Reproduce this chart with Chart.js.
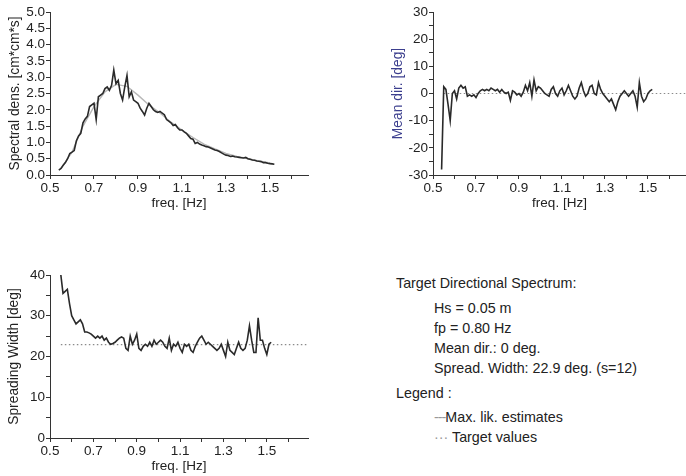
<!DOCTYPE html>
<html>
<head>
<meta charset="utf-8">
<script src="https://cdn.jsdelivr.net/npm/chart.js@4.4.1/dist/chart.umd.min.js"></script>
<style>
    body { margin: 0; background: #fff; width: 686px; height: 476px; overflow: hidden; position: relative; font-family: "Liberation Sans", Arial, sans-serif; color: #222; }
    canvas { position: absolute; }
    .txt { position: absolute; font-size: 14.3px; line-height: 16px; white-space: nowrap; transform: translateY(-50%); }
</style>
</head>
<body>
<canvas id="chartSpectro" width="320" height="211" style="left:0px;top:0px"></canvas>
<canvas id="chartMeanDir" width="298" height="211" style="left:388px;top:0px"></canvas>
<canvas id="chartSpread" width="320" height="244" style="left:0px;top:230px"></canvas>

<div class="txt" style="left:396px;top:283px">Target Directional Spectrum:</div>
<div class="txt" style="left:434px;top:308px">Hs = 0.05 m</div>
<div class="txt" style="left:434px;top:328px">fp = 0.80 Hz</div>
<div class="txt" style="left:434px;top:348px">Mean dir.: 0 deg.</div>
<div class="txt" style="left:434px;top:368px">Spread. Width: 22.9 deg. (s=12)</div>
<div class="txt" style="left:396px;top:393px">Legend :</div>
<div class="txt" style="left:434px;top:417px"><span style="color:#999;letter-spacing:-1px">---</span>Max. lik. estimates</div>
<div class="txt" style="left:434px;top:437px"><span style="color:#999">···</span> Target values</div>

<script>
// frecuencias medidas (Hz)
const freq = [
    0.54, 0.55, 0.56, 0.57, 0.58, 0.59, 0.60, 0.61, 0.62, 0.63,
    0.64, 0.65, 0.66, 0.67, 0.68, 0.69, 0.70, 0.71, 0.72, 0.73,
    0.74, 0.75, 0.76, 0.77, 0.78, 0.79, 0.80, 0.81, 0.82, 0.83,
    0.84, 0.85, 0.86, 0.87, 0.88, 0.89, 0.90, 0.91, 0.92, 0.93,
    0.94, 0.95, 0.96, 0.97, 0.98, 0.99, 1.00, 1.01, 1.02, 1.03,
    1.04, 1.05, 1.06, 1.07, 1.08, 1.09, 1.10, 1.11, 1.12, 1.13,
    1.14, 1.15, 1.16, 1.17, 1.18, 1.19, 1.20, 1.21, 1.22, 1.23,
    1.24, 1.25, 1.26, 1.27, 1.28, 1.29, 1.30, 1.31, 1.32, 1.33,
    1.34, 1.35, 1.36, 1.37, 1.38, 1.39, 1.40, 1.41, 1.42, 1.43,
    1.44, 1.45, 1.46, 1.47, 1.48, 1.49, 1.50, 1.51, 1.52
];

// Max. lik. estimates
const spectralDens = [
    0.15, 0.20, 0.30, 0.38, 0.50, 0.66, 0.70, 0.75, 1.05, 1.20,
    1.28, 1.60, 1.72, 1.80, 2.10, 2.15, 2.20, 1.70, 2.40, 2.45,
    2.50, 2.65, 2.70, 2.60, 2.75, 3.22, 2.80, 2.90, 2.50, 2.30,
    2.70, 3.05, 2.40, 2.55, 2.30, 2.25, 2.20, 2.05, 1.95, 1.84,
    2.05, 2.20, 2.10, 2.00, 1.95, 1.92, 1.95, 1.90, 1.85, 1.70,
    1.65, 1.60, 1.52, 1.55, 1.45, 1.38, 1.38, 1.32, 1.28, 1.20,
    1.12, 1.10, 0.97, 1.00, 0.95, 0.92, 0.90, 0.87, 0.86, 0.83,
    0.80, 0.77, 0.75, 0.72, 0.68, 0.64, 0.61, 0.60, 0.57, 0.58,
    0.56, 0.55, 0.54, 0.53, 0.52, 0.54, 0.50, 0.48, 0.46, 0.45,
    0.43, 0.42, 0.41, 0.38, 0.38, 0.36, 0.35, 0.34, 0.33
];

const meanDir = [
    -28, 2.5, 1.5, -4, -10, 0, 1, -2, 2, 3,
    2, 2.5, -1, -0.5, -1, -0.5, -1.5, 0, 1, 1.5,
    1, 1.5, 1, 2, 1.5, 1, 1.5, 0.5, 1.5, 0.5,
    0, 0.5, -2.5, 1, 0.5, -0.5, 0, -1, 0.5, 3,
    1, 4, -1, 5, 1, 2.5, 2, 1, 0, -0.5,
    -1, 1.5, 2.5, 0, -1, 1, 2, -0.5, 1, 3,
    1, -1, -2, -1, 2, 4, 1, -1, 0, 2.5,
    3, 0, -0.5, 4, 1.5, 0, -1, -2, -3, -2,
    -4, -6, -3, -1, 0, 1, 0, -1, 0, 1,
    -1, -5, 4, -1, -3, -2, 0, 1, 1.5
];

const spreadWidth = [
    null, 40, 35.5, 36, 36.5, 33, 30, 29, 28, 28.5,
    29, 28, 26, 26, 25.8, 25.5, 25, 24.5, 25, 24.5,
    25, 24, 24.5, 23.5, 23, 23.2, 23.5, 24, 24.5, 24.8,
    24.5, 22, 21.5, 25, 23, 24, 25.5, 22, 21.5, 22.5,
    23, 22.5, 23.5, 22.5, 24, 23, 23.5, 24, 23.5, 22.5,
    22, 24.5, 21.5, 23, 22.5, 23.5, 22, 21, 23, 22.5,
    23, 21.5, 21, 22.5, 23.5, 24.5, 25, 24, 23, 23.5,
    23, 22.5, 22, 21.5, 22, 23, 21.5, 20, 23.5, 21.5,
    21, 20.5, 22, 23.5, 22, 21.5, 22, 24, 27.5, 24,
    21, 21, 29.5, 24, 24, 22, 20.5, 23, 23.5
];

// Target values
const targetFreq = [0.55, 0.60, 0.65, 0.70, 0.75, 0.80, 0.85, 0.90, 0.95, 1.00,
    1.05, 1.10, 1.15, 1.20, 1.25, 1.30, 1.35, 1.40, 1.45, 1.50];
const targetDens = [0.20, 0.70, 1.50, 2.10, 2.55, 2.78, 2.72, 2.45, 2.15, 1.90,
    1.62, 1.38, 1.15, 0.95, 0.80, 0.66, 0.57, 0.50, 0.43, 0.37];
const targetLineFreq = [0.55, 1.70];
const targetDir = [0, 0];
const targetSpread = [22.9, 22.9];

// ejes
const xTicks = [0.5, 0.6, 0.7, 0.8, 0.9, 1.0, 1.1, 1.2, 1.3, 1.4, 1.5, 1.6];
const xTickLabels = ['0.5', '0.7', '0.9', '1.1', '1.3', '1.5'];
const yTicksSpectro = [0, 0.5, 1, 1.5, 2, 2.5, 3, 3.5, 4, 4.5, 5];
const yTicksDir = [-30, -25, -20, -15, -10, -5, 0, 5, 10, 15, 20, 25, 30];
const yTicksSpread = [0, 5, 10, 15, 20, 25, 30, 35, 40];

const toPoints = (xs, ys) => xs.map((x, i) => ({ x: x, y: ys[i] }));

const FONT = '"Liberation Sans", Arial, sans-serif';
const AXIS_COLOR = '#333';

const lineaMedida = (data) => ({
    data: data,
    borderColor: '#2a2a2a',
    borderWidth: 1.6,
    pointRadius: 0,
    tension: 0,
    spanGaps: false,
    order: 1
});

const lineaObjetivo = (data, dotted) => ({
    data: data,
    borderColor: dotted ? '#8a8a8a' : '#b8b8b8',
    borderWidth: dotted ? 1.2 : 1.4,
    borderDash: dotted ? [1.5, 2.5] : [],
    pointRadius: 0,
    tension: 0,
    order: 2
});

const crearGrafica = (id, cfg) => {
    const ctx = document.getElementById(id).getContext('2d');
    return new Chart(ctx, {
        type: 'line',
        data: { datasets: cfg.datasets },
        options: {
            responsive: false,
            animation: false,
            devicePixelRatio: 1,
            layout: { padding: cfg.padding },
            plugins: { legend: { display: false }, tooltip: { enabled: false } },
            scales: {
                x: {
                    type: 'linear',
                    min: 0.5,
                    max: cfg.xMax,
                    afterBuildTicks: (scale) => { scale.ticks = xTicks.map(v => ({ value: v })); },
                    afterFit: (scale) => { scale.height = cfg.xHeight; },
                    ticks: {
                        autoSkip: false,
                        maxRotation: 0,
                        padding: 1,
                        color: '#222',
                        font: { family: FONT, size: 13.5 },
                        callback: (v) => {
                            const s = Number(v).toFixed(1);
                            return xTickLabels.includes(s) ? s : '';
                        }
                    },
                    grid: { drawOnChartArea: false, drawTicks: true, tickLength: 4, color: AXIS_COLOR },
                    border: { display: true, color: AXIS_COLOR, width: 1 },
                    title: {
                        display: true,
                        text: 'freq. [Hz]',
                        color: '#222',
                        padding: { top: 0, bottom: 0 },
                        font: { family: FONT, size: 13.5 }
                    }
                },
                y: {
                    type: 'linear',
                    min: cfg.yMin,
                    max: cfg.yMax,
                    afterBuildTicks: (scale) => { scale.ticks = cfg.yTicks.map(v => ({ value: v })); },
                    afterFit: (scale) => { scale.width = cfg.yWidth; },
                    ticks: {
                        autoSkip: false,
                        padding: 1,
                        color: '#222',
                        font: { family: FONT, size: 13.5 },
                        callback: cfg.yLabel
                    },
                    grid: { drawOnChartArea: false, drawTicks: true, tickLength: 4, color: AXIS_COLOR },
                    border: { display: true, color: AXIS_COLOR, width: 1 },
                    title: {
                        display: true,
                        text: cfg.yTitle,
                        color: cfg.yTitleColor || '#222',
                        padding: { top: 0, bottom: 2 },
                        font: { family: FONT, size: 13.8 }
                    }
                }
            }
        }
    });
};

crearGrafica('chartSpectro', {
    datasets: [
        lineaMedida(toPoints(freq, spectralDens)),
        lineaObjetivo(toPoints(targetFreq, targetDens), false)
    ],
    padding: { left: 7, top: 12, right: 12, bottom: 0 },
    xMax: 1.673,
    xHeight: 36,
    yMin: 0,
    yMax: 5,
    yTicks: yTicksSpectro,
    yWidth: 43,
    yLabel: (v) => Number(v).toFixed(1),
    yTitle: 'Spectral dens. [cm*cm*s]'
});

crearGrafica('chartMeanDir', {
    datasets: [
        lineaMedida(toPoints(freq, meanDir)),
        lineaObjetivo(toPoints(targetLineFreq, targetDir), true)
    ],
    padding: { left: 2, top: 12, right: 0, bottom: 0 },
    xMax: 1.677,
    xHeight: 36,
    yMin: -30,
    yMax: 30,
    yTicks: yTicksDir,
    yWidth: 43,
    yLabel: (v) => (v % 10 === 0 ? String(v) : ''),
    yTitle: 'Mean dir. [deg]',
    yTitleColor: '#3c3f8e'
});

crearGrafica('chartSpread', {
    datasets: [
        lineaMedida(toPoints(freq, spreadWidth)),
        lineaObjetivo(toPoints(targetLineFreq, targetSpread), true)
    ],
    padding: { left: 6, top: 45, right: 12, bottom: 0 },
    xMax: 1.69,
    xHeight: 36,
    yMin: 0,
    yMax: 40,
    yTicks: yTicksSpread,
    yWidth: 44,
    yLabel: (v) => (v % 10 === 0 ? String(v) : ''),
    yTitle: 'Spreading Width [deg]'
});
</script>
</body>
</html>
